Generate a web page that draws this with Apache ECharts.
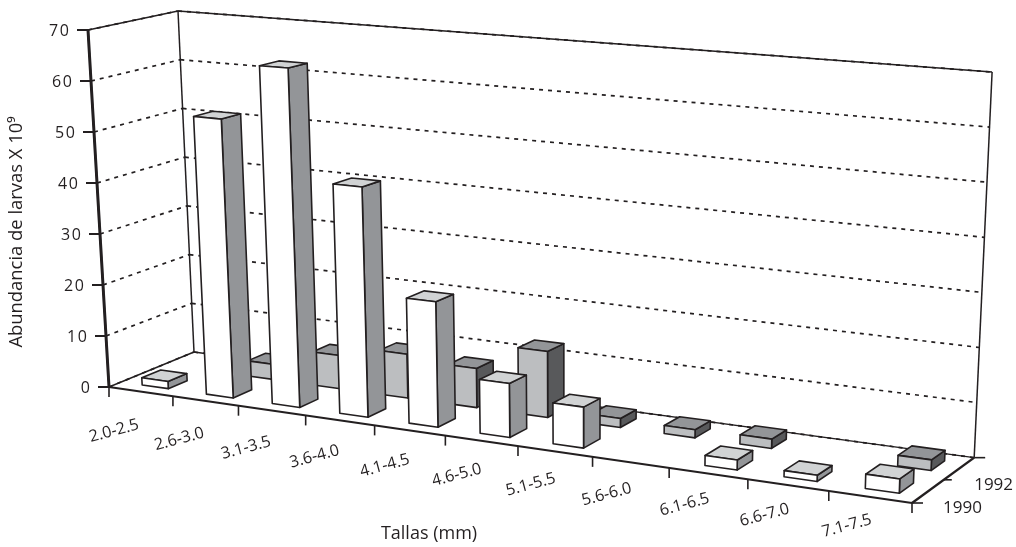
<!DOCTYPE html>
<html><head><meta charset="utf-8">
<style>html,body{margin:0;padding:0;background:#fff}#c{width:1016px;height:547px}</style>
<script src="https://cdn.jsdelivr.net/npm/echarts@6/dist/echarts.min.js"></script>
</head><body><div id="c"></div>
<script>
const categories = ['2.0-2.5','2.6-3.0','3.1-3.5','3.6-4.0','4.1-4.5','4.6-5.0','5.1-5.5','5.6-6.0','6.1-6.5','6.6-7.0','7.1-7.5'];
const values1990 = [1.4,54,65,43.6,23.5,10,7.5,0,1.8,1.1,2.5];
const values1992 = [0,3,6.5,8.5,7.5,12.5,1.7,1.5,1.7,0,1.9];
const yearLabels = ['1990','1992'];
const valueTicks = [0,10,20,30,40,50,60,70];
const yTitle = 'Abundancia de larvas X 10\u2079';
const xTitle = 'Tallas (mm)';

const INK = '#231f20', FONT = '"Open Sans","Noto Sans",sans-serif';
const CU = -0.135, CD = 0.04;
const floorC = {o:[109,387],u:[912,503],d:[194,352]};
const ceilC  = {o:[88,30],u:[925.7,96.8],d:[178,11]};
function hom(c,u,d){
  const w = 1+CU*u+CD*d;
  return [0,1].map(k => (c.o[k] + (c.u[k]*(1+CU)-c.o[k])*u + (c.d[k]*(1+CD)-c.o[k])*d)/w);
}
function P(u,d,t){
  const a=hom(floorC,u,d), b=hom(ceilC,u,d);
  return [a[0]+(b[0]-a[0])*t, a[1]+(b[1]-a[1])*t];
}
const BAR_W = 0.205/11, BAR_SHIFT = 0.035/11, D_HALF = 0.11;
function line(a,b,w,dash){
  return {type:'line',shape:{x1:a[0],y1:a[1],x2:b[0],y2:b[1]},
    style:{stroke:INK,lineWidth:w,lineDash:dash||null,fill:null}};
}
function text(str,x,y,opt){
  opt=opt||{};
  return {type:'text',x:x,y:y,rotation:opt.rot||0,
    style:{text:str,font:(opt.size||15)+'px '+FONT,fill:INK,align:opt.align||'center',verticalAlign:'middle'}};
}
const DOT=[4,5];
function wallItem(params,api){
  const r=params.coordSys;
  const tOf=v=>1-(api.coord([0,v])[1]-r.y)/r.height;
  const n=categories.length, kids=[];
  const uOf=i=>(api.coord([i,0])[0]-r.x)/r.width-0.5/n;
  valueTicks.forEach(v=>{
    const t=tOf(v);
    kids.push(line(P(0,0,t),P(0,1,t),1.7,DOT));
    kids.push(line(P(0,1,t),P(1,1,t),1.7,DOT));
    const a=P(0,0,t);
    kids.push(line([a[0]-11,a[1]],a,2));
    kids.push(text(String(v).split('').join('\u200a'),a[0]-19,a[1]+1,{align:'right',size:16}));
  });
  kids.push(line(P(0,0,1),P(0,1,1),1.3));
  kids.push(line(P(0,1,1),P(1,1,1),1.3));
  kids.push(line(P(0,1,0),P(0,1,1),1.5));
  kids.push(line(P(1,1,0),P(1,1,1),1.5));
  kids.push(line(P(0,0,0),P(0,1,0),1.4));
  kids.push(line(P(0,1,0),P(1,1,0),1.4));
  kids.push(line(P(1,0,0),P(1,1,0),2.4));
  kids.push(line(P(0,0,0),P(1,0,0),2));
  kids.push(line(P(0,0,0),P(0,0,1),3));
  for(let i=0;i<=n;i++){
    const a=P(uOf(i),0,0);
    kids.push(line(a,[a[0],a[1]+10],1.6));
    if(i<n){
      const f=i/(n-1);
      kids.push(text(categories[i],a[0]+5+13*f,a[1]+44-9*f,{rot:15*Math.PI/180,size:16.2}));
    }
  }
  [0,0.5,1].forEach(d=>{
    const a=P(1,d,0);
    kids.push(line(a,[a[0]+(d===0.5?8:11),a[1]],1.6));
  });
  yearLabels.forEach((y,i)=>{
    const a=P(1,0.25+0.5*i,0);
    kids.push(text(y,a[0]+15,a[1]+17,{align:'left',size:17}));
  });
  kids.push(text(yTitle,17,232,{rot:Math.PI/2,size:18.4}));
  kids.push(text(xTitle,429,534,{size:18}));
  return {type:'group',children:kids};
}
function barRenderer(dc,front,top,side){
  return function(params,api){
    const v=api.value(1); if(!v) return null;
    const r=params.coordSys, c=api.coord([api.value(0),v]);
    const uc=(c[0]-r.x)/r.width+BAR_SHIFT, t=1-(c[1]-r.y)/r.height;
    const u0=uc-BAR_W, u1=uc+BAR_W, d0=dc-D_HALF, d1=dc+D_HALF;
    const poly=(pts,fill)=>({type:'polygon',shape:{points:pts},
      style:{fill:fill,stroke:INK,lineWidth:1.6,lineJoin:'round'}});
    return {type:'group',children:[
      poly([P(u1,d0,0),P(u1,d1,0),P(u1,d1,t),P(u1,d0,t)],side),
      poly([P(u0,d0,t),P(u1,d0,t),P(u1,d1,t),P(u0,d1,t)],top),
      poly([P(u0,d0,0),P(u1,d0,0),P(u1,d0,t),P(u0,d0,t)],front)
    ]};
  };
}
const chart=echarts.init(document.getElementById('c'),null,{renderer:'canvas'});
chart.setOption({
  animation:false,backgroundColor:'#fff',
  grid:{left:0,right:0,top:0,bottom:0},
  xAxis:{type:'category',data:categories,show:false},
  yAxis:{type:'value',min:0,max:70,interval:10,show:false},
  series:[
    {type:'custom',name:'axes',clip:false,silent:true,z:1,renderItem:wallItem,data:[[0,0]]},
    {type:'custom',name:yearLabels[1],clip:false,z:2,encode:{x:0,y:1},
      renderItem:barRenderer(0.75,'#bcbec0','#939598','#58595b'),
      data:values1992.map((v,i)=>[i,v])},
    {type:'custom',name:yearLabels[0],clip:false,z:3,encode:{x:0,y:1},
      renderItem:barRenderer(0.25,'#ffffff','#d1d3d4','#939598'),
      data:values1990.map((v,i)=>[i,v])}
  ]
});
</script></body></html>
